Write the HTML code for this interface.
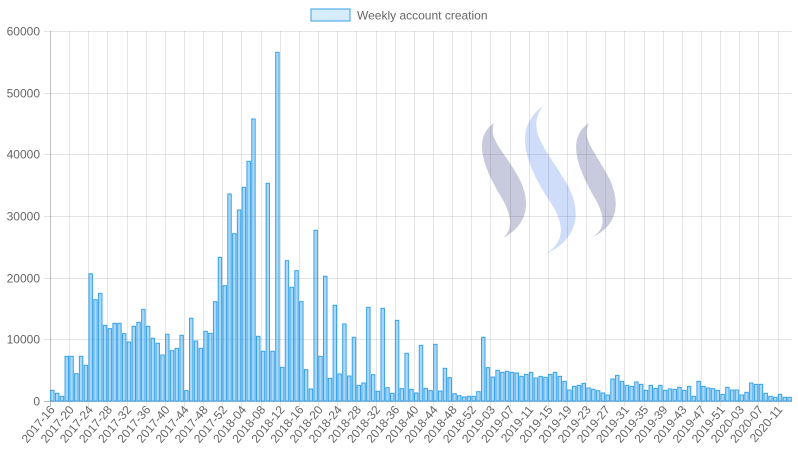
<!DOCTYPE html>
<html><head><meta charset="utf-8"><style>
html,body{margin:0;padding:0;background:#fff;}
svg{display:block;font-family:"Liberation Sans",Arial,sans-serif;}
</style></head><body>
<svg id="chart" width="798" height="450" viewBox="0 0 798 450">
<g>
<path d="M494,123 C472,138 484,168 500,195 C514,218 512,230 503,238 C526,226 532,205 520,180 C504,150 488,140 494,123 Z" fill="rgba(110,115,165,0.38)"/>
<path d="M543,106 C512,128 526,165 549,200 C568,228 562,243 546,254 C580,238 582,210 566,182 C544,146 526,130 543,106 Z" fill="rgba(110,150,240,0.32)"/>
<path d="M589,123 C566,138 578,168 593,195 C607,218 605,230 591,238 C617,226 621,205 610,180 C595,150 581,140 589,123 Z" fill="rgba(110,115,165,0.38)"/>
</g>
<g id="grid"></g>
<g id="bars"></g>
<g id="labels"></g>
<g>
<rect x="311" y="9" width="39" height="12" fill="rgba(54,162,235,0.2)" stroke="#36a2eb" stroke-width="1"/>
<text x="357" y="19.5" font-size="12" fill="#666">Weekly account creation</text>
</g>
</svg>
<script>
const values = [1730,1250,760,7250,7250,4430,7250,5790,20640,16430,17460,12270,11730,12600,12600,10920,9570,12110,12760,14870,12110,10170,9360,7460,10820,8160,8540,10650,1680,13410,9730,8540,11300,10980,16110,23300,18700,33570,27130,30970,34650,38870,45730,10490,8060,35300,8060,56540,5460,22750,18440,21130,16110,5080,1950,27680,7250,20220,3680,15520,4380,12490,4050,10330,2540,2920,15190,4270,1570,15030,2160,1250,13080,2000,7730,1890,1300,9030,2050,1680,9190,1620,5300,3790,1190,860,650,760,760,1510,10330,5410,3890,4970,4650,4810,4650,4540,4000,4320,4650,3730,4000,3840,4320,4650,4000,3190,1780,2380,2540,2860,2110,1890,1680,1300,970,3570,4160,3190,2540,2380,3080,2700,1730,2540,2050,2540,1730,1950,1890,2220,1730,2380,760,3190,2380,2110,2000,1730,1080,2220,1780,1780,970,1410,2920,2700,2700,1250,760,600,1080,600,600];
const categories = ["2017-16","2017-17","2017-18","2017-19","2017-20","2017-21","2017-22","2017-23","2017-24","2017-25","2017-26","2017-27","2017-28","2017-29","2017-30","2017-31","2017-32","2017-33","2017-34","2017-35","2017-36","2017-37","2017-38","2017-39","2017-40","2017-41","2017-42","2017-43","2017-44","2017-45","2017-46","2017-47","2017-48","2017-49","2017-50","2017-51","2017-52","2018-01","2018-02","2018-03","2018-04","2018-05","2018-06","2018-07","2018-08","2018-09","2018-10","2018-11","2018-12","2018-13","2018-14","2018-15","2018-16","2018-17","2018-18","2018-19","2018-20","2018-21","2018-22","2018-23","2018-24","2018-25","2018-26","2018-27","2018-28","2018-29","2018-30","2018-31","2018-32","2018-33","2018-34","2018-35","2018-36","2018-37","2018-38","2018-39","2018-40","2018-41","2018-42","2018-43","2018-44","2018-45","2018-46","2018-47","2018-48","2018-49","2018-50","2018-51","2018-52","2019-00","2019-01","2019-02","2019-03","2019-04","2019-05","2019-06","2019-07","2019-08","2019-09","2019-10","2019-11","2019-12","2019-13","2019-14","2019-15","2019-16","2019-17","2019-18","2019-19","2019-20","2019-21","2019-22","2019-23","2019-24","2019-25","2019-26","2019-27","2019-28","2019-29","2019-30","2019-31","2019-32","2019-33","2019-34","2019-35","2019-36","2019-37","2019-38","2019-39","2019-40","2019-41","2019-42","2019-43","2019-44","2019-45","2019-46","2019-47","2019-48","2019-49","2019-50","2019-51","2019-52","2020-01","2020-02","2020-03","2020-04","2020-05","2020-06","2020-07","2020-08","2020-09","2020-10","2020-11","2020-12","2020-13"];
const yTicks = [0,10000,20000,30000,40000,50000,60000];
const yMax = 60000;

const NS = "http://www.w3.org/2000/svg";
const L = 50, R = 792, T = 31, B = 401;
const bw = (R - L) / categories.length;
function xLeft(i){ return L + i * bw; }
function yPos(v){ return B - v / yMax * (B - T); }
function mk(tag, attrs, parent){
  const e = document.createElementNS(NS, tag);
  for (const k in attrs) e.setAttribute(k, attrs[k]);
  parent.appendChild(e); return e;
}
const grid = document.getElementById('grid');
const bars = document.getElementById('bars');
const labels = document.getElementById('labels');

yTicks.forEach(t => {
  const y = Math.round(yPos(t)) + 0.5;
  const ln = mk('line', {x1: L - 6, x2: R, y1: y, y2: y, stroke: t === 0 ? 'rgba(0,0,0,0.25)' : 'rgba(0,0,0,0.1)', 'stroke-width': 1}, grid);
  
  
  const tx = mk('text', {x: L - 10, y: y + 4, 'text-anchor': 'end', 'font-size': 12, fill: '#666'}, labels);
  tx.textContent = t;
  
  
});
for (let i = 0; i < categories.length; i += 4) {
  const x = Math.round(xLeft(i)) + 0.5;
  const ln = mk('line', {x1: x, x2: x, y1: T, y2: B + 6, stroke: i === 0 ? 'rgba(0,0,0,0.25)' : 'rgba(0,0,0,0.1)', 'stroke-width': 1}, grid);
  
  
  const cx = xLeft(i) + bw / 2 + 3;
  const tx = mk('text', {x: cx, y: 410, 'text-anchor': 'end', 'font-size': 12, fill: '#666', transform: 'rotate(-50 ' + cx + ' 410)'}, labels);
  tx.textContent = categories[i];
  
  
}
const inner = bw * 0.72;
values.forEach((v, i) => {
  const x = xLeft(i) + (bw - inner) / 2;
  const y = yPos(v);
  const r = mk('rect', {x: x, y: y, width: inner, height: B - y, fill: 'rgba(54,162,235,0.42)', stroke: '#36a2eb', 'stroke-width': 1}, bars);
  
  
});
</script>
</body></html>
